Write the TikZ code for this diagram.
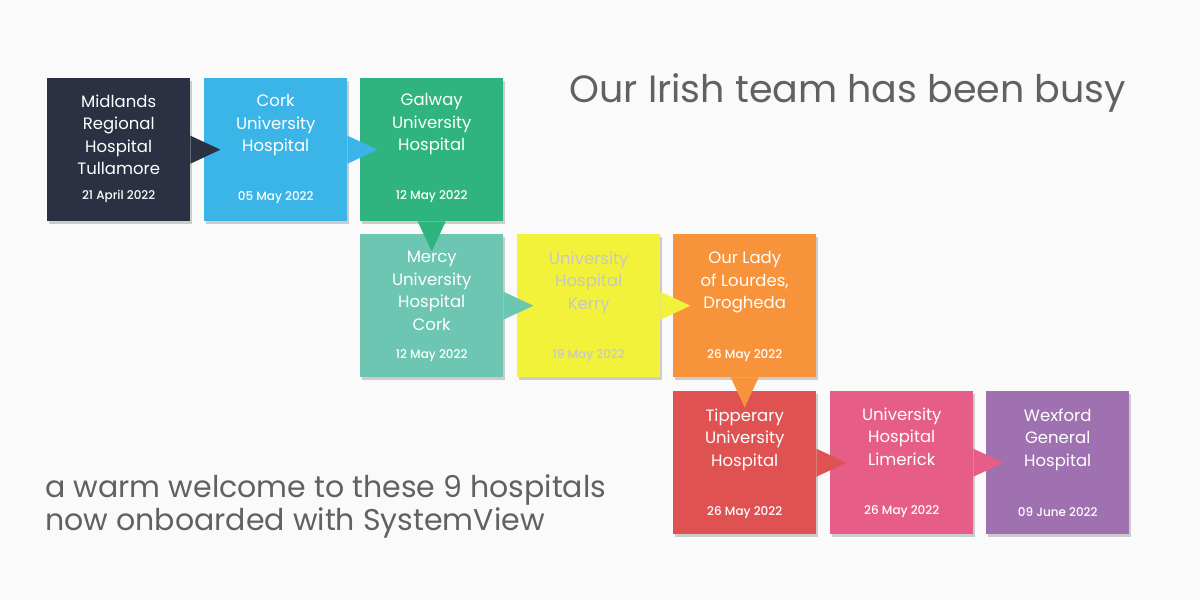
\documentclass[tikz,border=0pt]{standalone}
\usepackage{fontspec}
\setmainfont{Poppins}
\newfontfamily\med{Poppins Medium}
\begin{document}
\begin{tikzpicture}[x=1pt,y=-1pt,
 box/.style={minimum width=143pt,minimum height=143pt,inner sep=0pt,anchor=north west},
 nm/.style={align=center,font=\fontsize{16.5}{22.5}\selectfont,text=white,anchor=north},
 dt/.style={font=\med\fontsize{12}{15}\selectfont,text=white,anchor=center}]
\fill[gray!4] (0,0) rectangle (1200,600);
\useasboundingbox (0,0) rectangle (1200,600);
\definecolor{c1}{HTML}{2B3142}\definecolor{c2}{HTML}{3BB5E8}\definecolor{c3}{HTML}{2FB47F}
\definecolor{c4}{HTML}{6CC6B1}\definecolor{c5}{HTML}{F2F23A}\definecolor{c6}{HTML}{F7933B}
\definecolor{c7}{HTML}{E05252}\definecolor{c8}{HTML}{E65E87}\definecolor{c9}{HTML}{A071B0}
\foreach \n/\x/\y/\c in {a/47/78/c1,b/204/78/c2,c/360/78/c3,d/360/234/c4,e/517/234/c5,f/673/234/c6,g/673/391/c7,h/830/391/c8,i/986/391/c9}{
 \fill[black!20] (\x+2,\y+3) rectangle ++(143,143);
 \node[box,fill=\c] (\n) at (\x,\y) {};
}
\foreach \s/\c in {a/c1,b/c2,d/c4,e/c5,g/c7,h/c8}{
 \fill[\c] (\s.east)+(0,-14) -- +(30,0) -- +(0,14) -- cycle;}
\foreach \s/\c in {c/c3,f/c6}{
 \fill[\c] (\s.south)+(-14,0) -- +(0,30) -- +(14,0) -- cycle;}
\node[nm] at ([yshift=-13]a.north) {Midlands\\Regional\\Hospital\\Tullamore};
\node[nm] at ([yshift=-13]b.north) {Cork\\University\\Hospital};
\node[nm] at ([yshift=-12]c.north) {Galway\\University\\Hospital};
\node[nm] at ([yshift=-14]d.north) {Mercy\\University\\Hospital\\Cork};
\node[nm,text=black!22] at ([yshift=-14]e.north) {University\\Hospital\\Kerry};
\node[nm] at ([yshift=-14]f.north) {Our Lady\\of Lourdes,\\Drogheda};
\node[nm] at ([yshift=-14]g.north) {Tipperary\\University\\Hospital};
\node[nm] at ([yshift=-13]h.north) {University\\Hospital\\Limerick};
\node[nm] at ([yshift=-14]i.north) {Wexford\\General\\Hospital};
\node[dt] at ([yshift=25]a.south) {21 April 2022};
\node[dt] at ([yshift=24]b.south) {05 May 2022};
\node[dt] at ([yshift=25]c.south) {12 May 2022};
\node[dt] at ([yshift=22]d.south) {12 May 2022};
\node[dt,text=black!22] at ([yshift=22]e.south) {19 May 2022};
\node[dt] at ([yshift=22]f.south) {26 May 2022};
\node[dt] at ([yshift=22]g.south) {26 May 2022};
\node[dt] at ([yshift=23]h.south) {26 May 2022};
\node[dt] at ([yshift=22]i.south) {09 June 2022};
\node[anchor=west,text=black!62,font=\fontsize{38}{40}\selectfont] (t) at (566,93) {Our Irish team has been busy};
\node[anchor=north west,align=left,text=black!62,font=\fontsize{30}{33}\selectfont] (s) at (42,471) {a warm welcome to these 9 hospitals\\now onboarded with SystemView};
\end{tikzpicture}
\end{document}
